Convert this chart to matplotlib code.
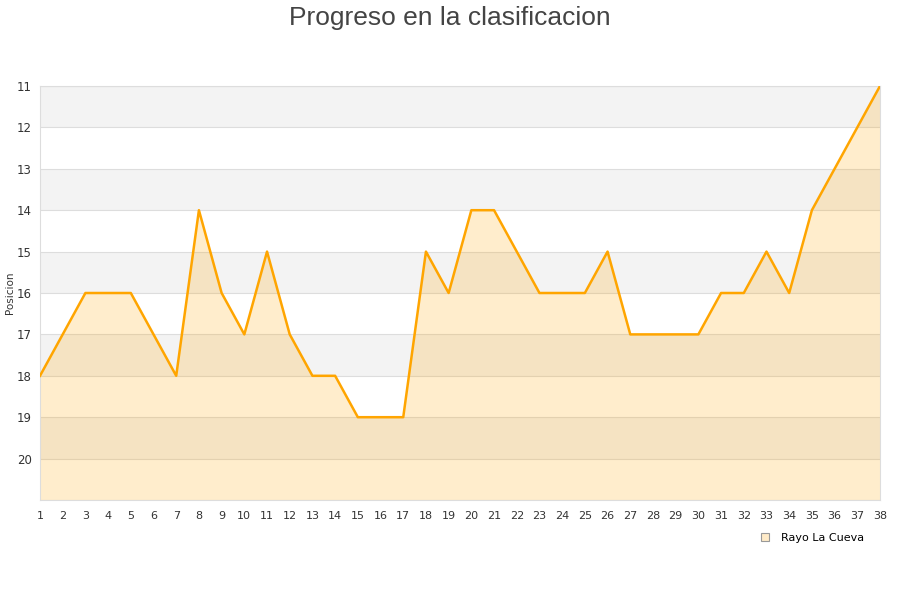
import numpy as np
import matplotlib.pyplot as plt
from matplotlib.lines import Line2D

jornadas = list(range(1, 39))
posiciones = [18, 17, 16, 16, 16, 17, 18, 14, 16, 17, 15, 17, 18, 18, 19, 19, 19, 15, 16,
              14, 14, 15, 16, 16, 16, 15, 17, 17, 17, 17, 16, 16, 15, 16, 14, 13, 12, 11]
y_ticks = list(range(11, 21))
equipo = "Rayo La Cueva"

fig = plt.figure(figsize=(9, 6), dpi=100)
ax = fig.add_axes([40 / 900, 100 / 600, 840 / 900, 414 / 600])

# alternating bands
for i, y in enumerate(range(11, 21)):
    if i % 2 == 0:
        ax.axhspan(y, y + 1, color="#f3f3f3", zorder=0, lw=0)
for y in range(11, 22):
    ax.axhline(y, color="#dddddd", lw=0.8, zorder=1)

ax.fill_between(jornadas, posiciones, 21, color="#ffa500", alpha=0.2, lw=0, zorder=2)
ax.plot(jornadas, posiciones, color="#ffa500", lw=1.8, zorder=3)

ax.set_xlim(1, 38)
ax.set_ylim(21, 11)
ax.set_xticks(jornadas)
ax.set_yticks(y_ticks)
ax.tick_params(axis="x", length=0, labelsize=8, labelcolor="#333333", pad=8)
ax.tick_params(axis="y", length=0, labelsize=8.5, labelcolor="#333333", pad=6)
for s in ax.spines.values():
    s.set_color("#dddddd")
ax.set_ylabel("Posicion", fontsize=7.5, color="#333333")
ax.yaxis.set_label_coords(-25 / 840, 0.5)

fig.suptitle("Progreso en la clasificacion", y=0.99, fontsize=19,
             color="#444444", family="Liberation Sans")

handle = Line2D([], [], marker="s", ls="", markersize=6,
                markerfacecolor="#ffebc8", markeredgecolor="#999999", markeredgewidth=0.8)
fig.legend([handle], [equipo], loc="center", bbox_to_anchor=(809 / 900, 1 - 538 / 600),
           frameon=False, fontsize=8, handletextpad=0.4)

fig.savefig("out.png")
